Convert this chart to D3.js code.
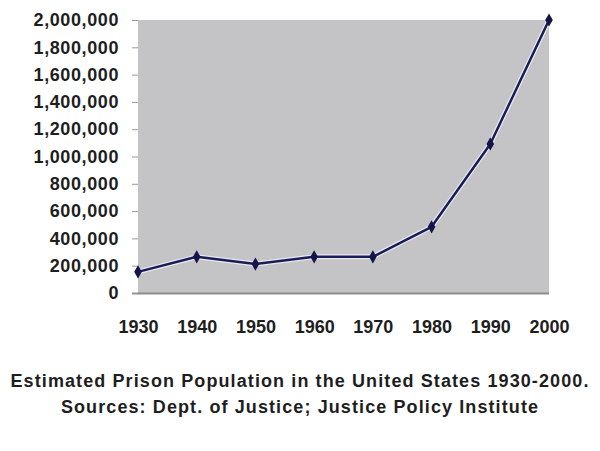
<!DOCTYPE html>
<html>
<head>
<meta charset="utf-8">
<script src="https://cdn.jsdelivr.net/npm/d3@7"></script>
<style>
  body { margin: 0; background: #fff; }
</style>
</head>
<body>
<div id="chart"></div>
<script>
// data
var years = ["1930", "1940", "1950", "1960", "1970", "1980", "1990", "2000"];
var population = [155000, 265000, 212000, 265000, 265000, 485000, 1092000, 2000000];
var yTicks = [0, 200000, 400000, 600000, 800000, 1000000, 1200000, 1400000, 1600000, 1800000, 2000000];
var captionLines = [
    "Estimated Prison Population in the United States 1930-2000.",
    "Sources: Dept. of Justice; Justice Policy Institute"
];

var width = 600, height = 451;
var margin = {top: 20, right: 51, bottom: 158, left: 138};
var plotW = width - margin.left - margin.right,
    plotH = height - margin.top - margin.bottom;

var svg = d3.select("#chart")
    .append("svg")
    .attr("width", width)
    .attr("height", height);

var g = svg.append("g")
    .attr("transform", "translate(" + margin.left + "," + margin.top + ")");

var x = d3.scalePoint().domain(years).range([0, plotW]);
var y = d3.scaleLinear().domain([0, 2000000]).range([plotH, 0]);

// grey plot area
g.append("rect")
    .attr("width", plotW)
    .attr("height", plotH)
    .attr("fill", "#c4c4c6");

// darker bottom edge
g.append("line")
    .attr("x1", -6).attr("x2", plotW)
    .attr("y1", plotH + 0.5).attr("y2", plotH + 0.5)
    .attr("stroke", "#8e8e8e")
    .attr("stroke-width", 2);

// y axis
var yAxis = g.append("g")
    .call(d3.axisLeft(y).tickValues(yTicks).tickSize(6).tickPadding(13)
        .tickFormat(d3.format(",")));
yAxis.select(".domain").remove();
yAxis.selectAll(".tick line").attr("stroke", "#9a9a9a");
yAxis.selectAll("text")
    .attr("font-family", "Liberation Sans, Arial, Helvetica")
    .attr("font-weight", "bold")
    .attr("font-size", 18)
    .attr("letter-spacing", 0.6)
    .attr("fill", "#1e1e1e");

// x axis
var xAxis = g.append("g")
    .attr("transform", "translate(0," + plotH + ")")
    .call(d3.axisBottom(x).tickSize(0).tickPadding(27));
xAxis.select(".domain").remove();
xAxis.selectAll("text")
    .attr("font-family", "Liberation Sans, Arial, Helvetica")
    .attr("font-weight", "bold")
    .attr("font-size", 18)
    .attr("fill", "#1e1e1e");

var pts = years.map(function(yr, i) { return {year: yr, value: population[i]}; });

var line = d3.line()
    .x(function(d) { return x(d.year); })
    .y(function(d) { return y(d.value); });

// soft light halo round the line
g.append("path")
    .datum(pts)
    .attr("d", line)
    .attr("fill", "none")
    .attr("stroke", "#e8e8f4")
    .attr("stroke-width", 5)
    .attr("stroke-linejoin", "round");

g.append("path")
    .datum(pts)
    .attr("d", line)
    .attr("fill", "none")
    .attr("stroke", "#1c1c55")
    .attr("stroke-width", 2.5)
    .attr("stroke-linejoin", "round");

// diamond markers
g.selectAll(".marker")
    .data(pts)
    .enter()
    .append("path")
    .attr("class", "marker")
    .attr("d", d3.symbol().type(d3.symbolDiamond).size(50))
    .attr("transform", function(d) { return "translate(" + x(d.year) + "," + y(d.value) + ")"; })
    .attr("fill", "#14144a");

// caption
svg.selectAll(".caption")
    .data(captionLines)
    .enter()
    .append("text")
    .attr("class", "caption")
    .attr("x", 300)
    .attr("y", function(d, i) { return 387 + i * 26; })
    .attr("text-anchor", "middle")
    .attr("font-family", "Liberation Sans, Arial, Helvetica")
    .attr("font-weight", "bold")
    .attr("font-size", 18)
    .attr("letter-spacing", 1.1)
    .attr("fill", "#1e1e1e")
    .text(function(d) { return d; });
</script>
</body>
</html>
